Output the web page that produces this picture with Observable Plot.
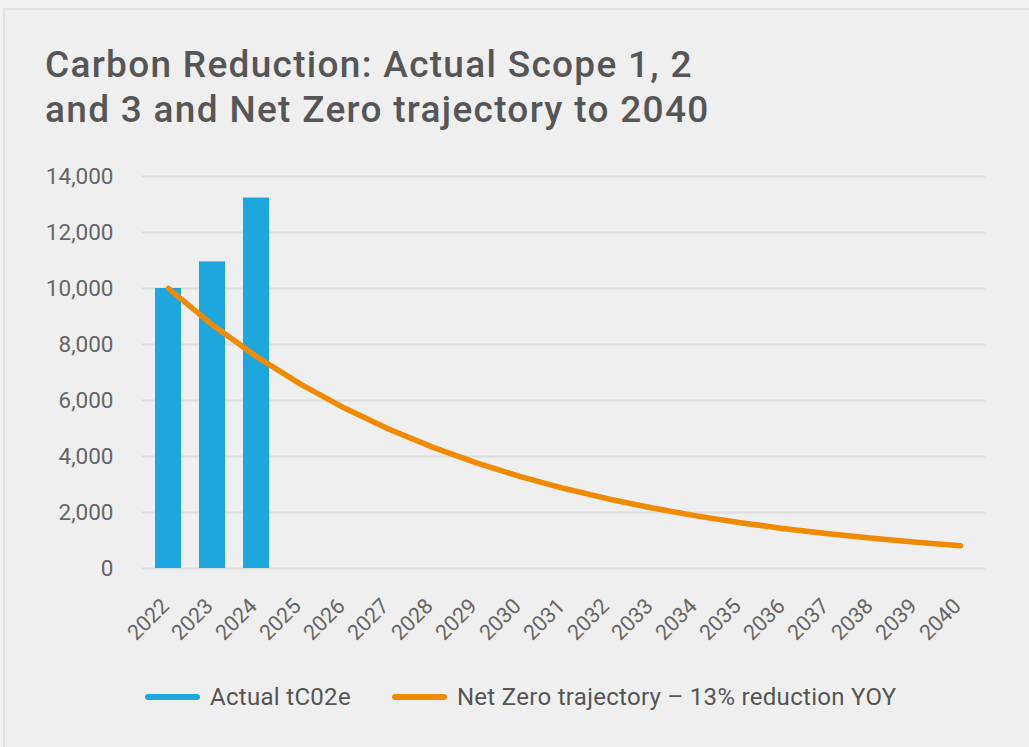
<!DOCTYPE html>
<html>
<head>
<meta charset="utf-8">
<script src="https://cdn.jsdelivr.net/npm/d3@7"></script>
<script src="https://cdn.jsdelivr.net/npm/@observablehq/plot@0.6"></script>
<style>
  html, body { margin: 0; padding: 0; background: #f3f3f3; }
  #frame { position: absolute; left: 3px; top: 8px; width: 1030px; height: 745px;
           background: #efefef; border-top: 2px solid #e2e2e2; border-left: 2px solid #e2e2e2; box-sizing: border-box; }
  #title { position: absolute; left: 45px; top: 42px; font-family: Roboto, sans-serif; font-weight: 500;
           font-size: 37px; line-height: 45px; letter-spacing: 1.3px; color: #565656; }
  #chart { position: absolute; left: 0; top: 150px; }
  #legend { position: absolute; left: 145px; top: 681px; height: 32px; font-family: Roboto, sans-serif; font-size: 24px;
            letter-spacing: 0.3px; color: #555; display: flex; align-items: center; }
  .sw { display: inline-block; width: 55px; height: 6px; border-radius: 3px; margin-right: 10px; }
  .item { display: flex; align-items: center; margin-right: 41px; }
</style>
</head>
<body>
<div id="frame"></div>
<div id="title">Carbon Reduction: Actual Scope 1, 2<br>and 3 and Net Zero trajectory to 2040</div>
<div id="chart"></div>
<div id="legend">
  <div class="item"><span class="sw" style="background:#1ea7de"></span>Actual tC02e</div>
  <div class="item"><span class="sw" style="background:#f08a00"></span>Net Zero trajectory – 13% reduction YOY</div>
</div>
<script>
const years = ["2022","2023","2024","2025","2026","2027","2028","2029","2030","2031","2032","2033","2034","2035","2036","2037","2038","2039","2040"];
const actualYears = ["2022","2023","2024"];
const actualValues = [10000, 10950, 13230];
const trajectoryValues = [10000, 8700, 7569, 6585, 5729, 4984, 4336, 3773, 3282, 2856, 2484, 2161, 1880, 1636, 1423, 1238, 1077, 937, 815];
const yTicks = [0, 2000, 4000, 6000, 8000, 10000, 12000, 14000];

const actual = actualYears.map((y, i) => ({year: y, value: actualValues[i]}));
const trajectory = years.map((y, i) => ({year: y, value: trajectoryValues[i]}));

const chart = Plot.plot({
  width: 1029,
  height: 500,
  marginLeft: 142,
  marginRight: 44,
  marginTop: 26,
  marginBottom: 82,
  style: {background: "transparent", fontFamily: "Roboto, sans-serif", fontSize: "22px", color: "#666"},
  x: {type: "band", domain: years, paddingInner: 0.41, paddingOuter: 0.205, label: null},
  y: {domain: [0, 14000], label: null},
  marks: [
    Plot.gridY(yTicks, {stroke: "#dcdcdc", strokeOpacity: 1, strokeWidth: 2}),
    Plot.axisY(yTicks, {tickSize: 0, tickPadding: 29, tickFormat: d3.format(","), fontSize: 22.5, fill: "#666", label: null}),
    Plot.axisX({tickSize: 0, tickPadding: 34, dx: -3, tickRotate: -45, fontSize: 21.5, fill: "#666", label: null}),
    Plot.barY(actual, {x: "year", y: "value", fill: "#1ea7de"}),
    Plot.line(trajectory, {x: "year", y: "value", stroke: "#f08a00", strokeWidth: 5.5, curve: "linear"})
  ]
});
document.getElementById("chart").appendChild(chart);
</script>
</body>
</html>
